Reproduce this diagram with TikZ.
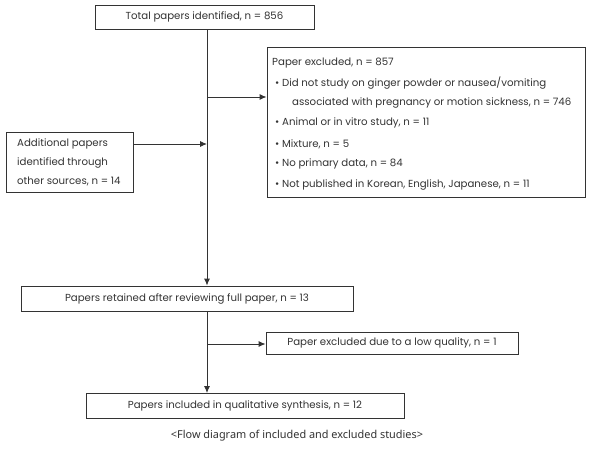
\documentclass[tikz,border=0pt]{standalone}
\usepackage{fontspec}
\setmainfont{Poppins}
\newfontfamily\capfont{Noto Sans}
\usetikzlibrary{arrows.meta}
\definecolor{ink}{HTML}{333333}
\tikzset{
  box/.style={draw=ink, line width=0.9pt, rectangle, inner sep=0pt, text=ink, font=\fontsize{10.2}{11}\selectfont},
  txt/.style={inner sep=0pt, text=ink, font=\fontsize{10.2}{11}\selectfont, anchor=west},
  arr/.style={draw=ink, line width=0.9pt, -{Latex[length=7pt,width=6pt]}},
  ln/.style={draw=ink, line width=0.9pt}
}
\begin{document}
\begin{tikzpicture}[x=1pt,y=-1pt]
\useasboundingbox (0,0) rectangle (595,450);
\fill[white] (0,0) rectangle (595,450);
% boxes
\node[box, minimum width=219pt, minimum height=24pt] (top) at (204.5,17) {Total papers identified, n = 856};
\node[box, minimum width=318pt, minimum height=150pt] (excl) at (426,122) {};
\node[box, minimum width=127pt, minimum height=60pt] (add) at (69.5,162) {};
\node[box, minimum width=332pt, minimum height=25pt] (ret) at (187,298.5) {Papers retained after reviewing full paper, n = 13};
\node[box, minimum width=252pt, minimum height=22pt] (low) at (392,343) {Paper excluded due to a low quality, n = 1};
\node[box, minimum width=318pt, minimum height=25pt] (inc) at (245,406) {Papers included in qualitative synthesis, n = 12};
% excluded text
\node[txt] (e0) at (272,63) {Paper excluded, n = 857};
\node[txt] (e1) at (275,83) {\textbullet\ Did not study on ginger powder or nausea/vomiting};
\node[txt] (e2) at (292,103) {associated with pregnancy or motion sickness, n = 746};
\node[txt] (e3) at (275,123) {\textbullet\ Animal or in vitro study, n = 11};
\node[txt] (e4) at (275,144) {\textbullet\ Mixture, n = 5};
\node[txt] (e5) at (275,164) {\textbullet\ No primary data, n = 84};
\node[txt] (e6) at (275,185) {\textbullet\ Not published in Korean, English, Japanese, n = 11};
% additional text
\node[txt] (a1) at (17,144) {Additional papers};
\node[txt] (a2) at (17,163) {identified through};
\node[txt] (a3) at (17,181) {other sources, n = 14};
% caption
\node[inner sep=0pt, text=ink, font=\capfont\fontsize{10.9}{13}\selectfont] (cap) at (297,436) {<Flow diagram of included and excluded studies>};
% spine coordinates
\coordinate (sp) at (207,0);
\coordinate (j1) at (207,97);
\coordinate (j2) at (207,144);
\coordinate (j3) at (207,344);
% connectors
\draw[arr] (top.south -| sp) -- (ret.north -| sp);
\draw[arr] (j1) -- (excl.west |- j1);
\draw[arr] (add.east |- j2) -- (j2);
\draw[arr] (ret.south -| sp) -- (inc.north -| sp);
\draw[arr] (j3) -- (low.west |- j3);
\end{tikzpicture}
\end{document}
